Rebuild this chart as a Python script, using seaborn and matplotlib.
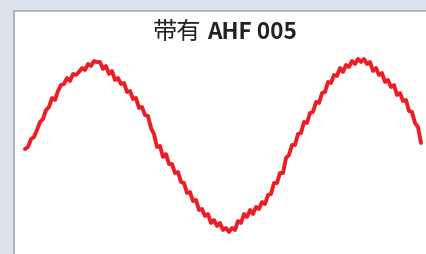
import numpy as np
import pandas as pd
import matplotlib
matplotlib.use("Agg")
import matplotlib.pyplot as plt
import seaborn as sns

# sample index (one sample every 3 px of the original screenshot)
samples = list(range(133))

signal = [
    -3, -1, 7, 9, 16, 24, 27, 36, 39, 48,
    46, 55, 61, 62, 68, 65, 72, 71, 74, 78,
    76, 82, 80, 85, 84, 84, 77, 80, 72, 75,
    66, 68, 62, 63, 54, 55, 47, 48, 38, 39,
    31, 30, 18, 12, -1, 0, -11, -8, -18, -18,
    -27, -26, -36, -37, -47, -46, -55, -54, -64, -63,
    -70, -68, -77, -74, -80, -77, -84, -82, -86, -82,
    -84, -75, -77, -68, -71, -64, -68, -61, -63, -56,
    -58, -49, -48, -37, -37, -27, -27, -12, -9, 1,
    1, 12, 13, 24, 23, 33, 34, 44, 43, 53,
    54, 64, 63, 71, 70, 78, 74, 81, 79, 85,
    82, 87, 84, 87, 82, 84, 75, 78, 71, 73,
    64, 66, 59, 61, 51, 53, 45, 46, 35, 34,
    23, 19, 3,
]

title_plain = "带有"
title_bold = "AHF 005"

df = pd.DataFrame({"sample": samples, "signal": signal})

sns.set_style("white")
plt.rcParams["font.family"] = ["Noto Sans CJK SC", "DejaVu Sans"]

W, H = 426, 255
fig = plt.figure(figsize=(W / 100, H / 100), dpi=100, facecolor="#dce3ea")
ax = fig.add_axes([14 / W, -2 / H, (W - 10) / W, (H - 10) / H])
ax.set_facecolor("white")

sns.lineplot(data=df, x="sample", y="signal", ax=ax, color="#ee1c25",
             linewidth=2.8, sort=False)

ax.set_xlim((14 - 25) / 3, (W + 4 - 25) / 3)
ax.set_ylim(-110, 135)
ax.set_xticks([])
ax.set_yticks([])
ax.set_xlabel("")
ax.set_ylabel("")
for side in ["right", "bottom"]:
    ax.spines[side].set_visible(False)
for side in ["left", "top"]:
    ax.spines[side].set_color("#a7abaf")
    ax.spines[side].set_linewidth(1.2)

# title: plain CJK part then bold part
fig.text(153 / W, 1 - 39 / H, title_plain, fontsize=17.5, color="#222222",
         ha="left", va="baseline")
fig.text(207 / W, 1 - 39 / H, title_bold, fontsize=16.3, color="#222222",
         fontweight="bold", ha="left", va="baseline")

fig.savefig("out.png", dpi=100, facecolor=fig.get_facecolor())
